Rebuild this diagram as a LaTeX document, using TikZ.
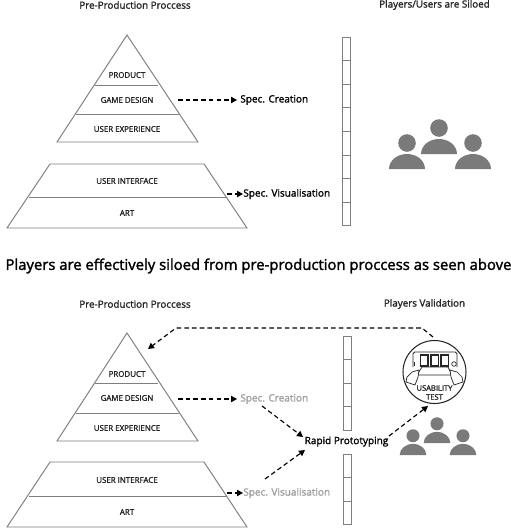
\documentclass[tikz,border=0pt]{standalone}
\usepackage{fontspec}
\setmainfont{Open Sans}
\newfontfamily\medfont[FakeBold=1.6]{Open Sans}
\newfontfamily\capfont[FakeBold=1.8]{Open Sans}
\usetikzlibrary{positioning,arrows.meta}
\definecolor{lineg}{HTML}{7F7F7F}
\definecolor{peopleg}{HTML}{7A7A7A}
\definecolor{fadeg}{HTML}{A0A0A0}
\definecolor{inkg}{HTML}{262626}

% x, base y, size
\newcommand{\person}[3]{%
  \fill[peopleg] (#1,#2-26*#3) circle (8.8*#3);
  \fill[peopleg] (#1-18*#3,#2) arc[start angle=180, end angle=360, x radius=18*#3, y radius=15*#3] -- cycle;
}

\begin{document}
\begin{tikzpicture}[x=0.02cm,y=-0.02cm,
    pyr/.style={draw=lineg, line width=0.55pt},
    tier/.style={font=\medfont\fontsize{4.5}{6}\selectfont, text=inkg, inner sep=0pt},
    head/.style={font=\medfont\fontsize{5.6}{7}\selectfont, text=inkg, inner sep=0pt},
    spec/.style={font=\medfont\fontsize{5.7}{7}\selectfont, inner sep=0pt, anchor=west},
    arr/.style={-{Triangle[length=3.4pt,width=3.6pt]}, dash pattern=on 2.6pt off 1.8pt, line width=0.65pt, black}]
  \useasboundingbox (0,0) rectangle (511,528);
  \fill[white] (0,0) rectangle (511,528);
  % upper half
  \node[head] (ttla) at (135,5) {Pre-Production Proccess};
  \node[head] (ttlb) at (434.5,5) {Players/Users are Siloed};
  \draw[pyr] (127,35) -- (198,142) -- (57,142) -- cycle;
  \draw[pyr] (95,85) -- (158,85);
  \draw[pyr] (76,114) -- (179,114);
  \draw[pyr] (50,164) -- (204,164) -- (247,228) -- (7,228) -- cycle;
  \draw[pyr] (29,197) -- (226,197);
  \node[tier] (prda) at (127,75) {PRODUCT};
  \node[tier] (gdsa) at (127,100) {GAME DESIGN};
  \node[tier] (uxpa) at (127,129) {USER EXPERIENCE};
  \node[tier] (uifa) at (127,181) {USER INTERFACE};
  \node[tier] (arta) at (127,213) {ART};
  \coordinate (gdsaend) at (178,100);
  \coordinate (uifaend) at (227,194);
  \node[spec] (crea) at (240,100) {Spec. Creation};
  \node[spec] (visa) at (243,194) {Spec. Visualisation};
  \draw[arr, shorten >=1.7pt] (gdsaend) -- (crea.west);
  \draw[arr] (uifaend) -- (visa.west);
  \foreach \i in {0,...,7} { \draw[pyr] (342,37+23.6*\i) rectangle +(8,23.6); }
  \person{439}{154}{1}
  \person{407}{169}{1}
  \person{473}{169}{1}
  % middle caption
  \node[font=\capfont\fontsize{8.45}{9}\selectfont, text=black, inner sep=0pt] (midl) at (258.5,266) {Players are effectively siloed from pre-production proccess as seen above};
  % lower half
  \node[head] (ttlc) at (135,304) {Pre-Production Proccess};
  \node[head] (ttld) at (424.5,304) {Players Validation};
  \draw[pyr] (127,333) -- (198,441) -- (57,441) -- cycle;
  \draw[pyr] (95,383) -- (158,383);
  \draw[pyr] (76,413) -- (179,413);
  \draw[pyr] (50,462) -- (204,462) -- (247,527) -- (7,527) -- cycle;
  \draw[pyr] (29,496) -- (226,496);
  \node[tier] (prdb) at (127,374) {PRODUCT};
  \node[tier] (gdsb) at (127,398) {GAME DESIGN};
  \node[tier] (uxpb) at (127,428) {USER EXPERIENCE};
  \node[tier] (uifb) at (127,480) {USER INTERFACE};
  \node[tier] (artb) at (127,512) {ART};
  \coordinate (gdsbend) at (178,399);
  \coordinate (uifbend) at (227,493);
  \node[spec, text=fadeg] (creb) at (240,399) {Spec. Creation};
  \node[spec, text=fadeg] (visb) at (243,493) {Spec. Visualisation};
  \draw[arr, shorten >=1.7pt] (gdsbend) -- (creb.west);
  \draw[arr] (uifbend) -- (visb.west);
  \node[font=\medfont\fontsize{5.7}{7}\selectfont, inner sep=0pt] (rapd) at (346.5,441.5) {Rapid Prototyping};
  \coordinate (crebend) at (262,406);
  \coordinate (visbend) at (265,479);
  \coordinate (crebtip) at (303,437);
  \coordinate (visbtip) at (305,450);
  \draw[arr] (crebend) -- (crebtip);
  \draw[arr] (visbend) -- (visbtip);
  \foreach \i in {0,...,3} { \draw[pyr] (343,336+23.6*\i) rectangle +(8,23.6); }
  \foreach \i in {0,...,2} { \draw[pyr] (343,454+23.6*\i) rectangle +(8,23.6); }
  % usability icon
  \node[draw=inkg, circle, line width=0.6pt, minimum size=1.26cm, inner sep=0pt] (test) at (434.5,372) {};
  \node[font=\medfont\fontsize{4.3}{5.1}\selectfont, text=inkg, align=center, inner sep=0pt] (testl) at (434.5,392.5) {USABILITY\\TEST};
  \draw[inkg, line width=0.45pt, rounded corners=1pt] (413,367) -- (413,352) -- (457,352) -- (457,367);
  \foreach \x in {420.5,431,441} { \draw[inkg, line width=0.6pt, fill=white] (\x,355) rectangle +(7.5,11); }
  \draw[inkg, line width=0.4pt, fill=white] (422,367) -- (448,367) -- (452,375) -- (417,375) -- cycle;
  \draw[inkg, line width=0.4pt, fill=white] (419,370) -- (412,372) -- (407,377) -- (406,382) -- (415,385) -- (418,377) -- cycle;
  \draw[inkg, line width=0.4pt, fill=white] (450,370) -- (457,372) -- (462,377) -- (463,382) -- (454,385) -- (451,377) -- cycle;
  \draw[inkg, line width=0.5pt] (414.5,362) -- (414.5,366);
  \draw[inkg, line width=0.4pt, fill=white] (454,364) circle (2.3);
  \person{437}{443}{0.74}
  \person{413}{455}{0.74}
  \person{463}{455}{0.74}
  \coordinate (rapdout) at (389,436);
  \coordinate (testtip) at (428,406);
  \coordinate (testout) at (433,337);
  \coordinate (bendr) at (422,328);
  \coordinate (bendl) at (176,328);
  \coordinate (apextip) at (148,349);
  \draw[arr] (rapdout) -- (testtip);
  \draw[arr] (testout) -- (bendr) -- (bendl) -- (apextip);
\end{tikzpicture}
\end{document}
